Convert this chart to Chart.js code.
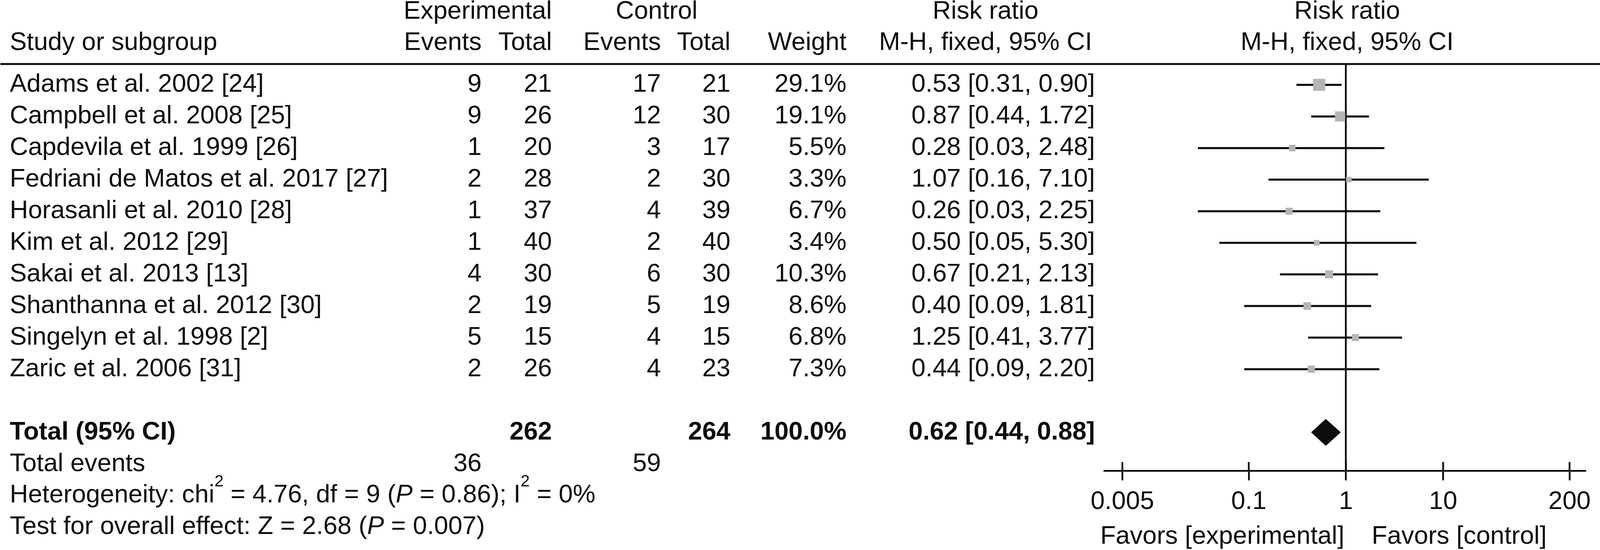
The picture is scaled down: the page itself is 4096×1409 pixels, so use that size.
<!DOCTYPE html>
<html>
<head>
<meta charset="utf-8">
<title>Risk ratio forest plot</title>
<script src="https://cdn.jsdelivr.net/npm/chart.js@4.4.1/dist/chart.umd.min.js"></script>
<style>
  html, body { margin: 0; padding: 0; background: #fff; }
  canvas { display: block; }
</style>
</head>
<body>
<canvas id="forest" width="4096" height="1409"></canvas>
<script>
// ---- data ----
const studies = [
  'Adams et al. 2002 [24]',
  'Campbell et al. 2008 [25]',
  'Capdevila et al. 1999 [26]',
  'Fedriani de Matos et al. 2017 [27]',
  'Horasanli et al. 2010 [28]',
  'Kim et al. 2012 [29]',
  'Sakai et al. 2013 [13]',
  'Shanthanna et al. 2012 [30]',
  'Singelyn et al. 1998 [2]',
  'Zaric et al. 2006 [31]'
];
const expEvents = [9, 9, 1, 2, 1, 1, 4, 2, 5, 2];
const expTotal  = [21, 26, 20, 28, 37, 40, 30, 19, 15, 26];
const ctlEvents = [17, 12, 3, 2, 4, 2, 6, 5, 4, 4];
const ctlTotal  = [21, 30, 17, 30, 39, 40, 30, 19, 15, 23];
const weights   = [29.1, 19.1, 5.5, 3.3, 6.7, 3.4, 10.3, 8.6, 6.8, 7.3];
const rr        = [0.53, 0.87, 0.28, 1.07, 0.26, 0.50, 0.67, 0.40, 1.25, 0.44];
const ciLow     = [0.31, 0.44, 0.03, 0.16, 0.03, 0.05, 0.21, 0.09, 0.41, 0.09];
const ciHigh    = [0.90, 1.72, 2.48, 7.10, 2.25, 5.30, 2.13, 1.81, 3.77, 2.20];

const pooled      = [0.62, 0.44, 0.88];   // RR, lower, upper
const totalN      = [262, 264];
const totalEvents = [36, 59];
const totalWeight = 100.0;

const tickValues = [0.005, 0.1, 1, 10, 200];
const tickLabels = ['0.005', '0.1', '1', '10', '200'];

// ---- look ----
const INK = '#0d0d0d';
const BOX = '#b5b5b5';
const FAMILY = '"Liberation Sans", Arial, Helvetica, sans-serif';
const FS = 65;
const LW = 4.6;
const TOTAL_ROW = 11;
const DIAMOND_HALF = 0.42;   // in row units

// text columns (px)
const col = {
  study: 25, expEv: 1233, expTot: 1413, ctlEv: 1692, ctlTot: 1870,
  weight: 2167, ci: 2803, ciHead: 2523, expHead: 1223, ctlHead: 1681
};

function boxSide(w) {
  return 0.659 * (9 + 7 * Math.sqrt(w));
}

function ciText(a, b, c) {
  return a.toFixed(2) + ' [' + b.toFixed(2) + ', ' + c.toFixed(2) + ']';
}

function txt(ctx, s, x, y, align, bold) {
  ctx.font = (bold ? 'bold ' : '') + FS + 'px ' + FAMILY;
  ctx.textAlign = align;
  ctx.fillText(s, x, y);
}

// text with superscripts and italics
function runs(ctx, parts, x, y) {
  ctx.textAlign = 'left';
  parts.forEach(p => {
    if (typeof p === 'string') p = {t: p};
    const size = p.sup ? 42 : FS;
    ctx.font = (p.it ? 'italic ' : '') + size + 'px ' + FAMILY;
    ctx.fillText(p.t, x, p.sup ? y - 41 : y);
    x += ctx.measureText(p.t).width;
  });
}

const tablePlugin = {
  id: 'table',
  afterDraw(chart) {
    const ctx = chart.ctx;
    const xs = chart.scales.x, ys = chart.scales.y, area = chart.chartArea;
    const one = xs.getPixelForValue(1);
    ctx.save();
    ctx.fillStyle = INK;
    ctx.strokeStyle = INK;
    ctx.textBaseline = 'alphabetic';

    // headings
    txt(ctx, 'Experimental', col.expHead, 48, 'center');
    txt(ctx, 'Control', col.ctlHead, 48, 'center');
    txt(ctx, 'Risk ratio', col.ciHead, 48, 'center');
    txt(ctx, 'Risk ratio', one + 3, 48, 'center');
    txt(ctx, 'Study or subgroup', col.study, 128, 'left');
    txt(ctx, 'Events', col.expEv, 128, 'right');
    txt(ctx, 'Total', col.expTot, 128, 'right');
    txt(ctx, 'Events', col.ctlEv, 128, 'right');
    txt(ctx, 'Total', col.ctlTot, 128, 'right');
    txt(ctx, 'Weight', col.weight, 128, 'right');
    txt(ctx, 'M-H, fixed, 95% CI', col.ciHead, 128, 'center');
    txt(ctx, 'M-H, fixed, 95% CI', one + 3, 128, 'center');

    // rule under the headings
    ctx.lineWidth = 5;
    ctx.beginPath();
    ctx.moveTo(1, area.top);
    ctx.lineTo(ctx.canvas.width, area.top);
    ctx.stroke();

    const base = i => ys.getPixelForValue(i) + 18;

    studies.forEach((s, i) => {
      const b = base(i);
      txt(ctx, s, col.study, b, 'left');
      txt(ctx, String(expEvents[i]), col.expEv, b, 'right');
      txt(ctx, String(expTotal[i]), col.expTot, b, 'right');
      txt(ctx, String(ctlEvents[i]), col.ctlEv, b, 'right');
      txt(ctx, String(ctlTotal[i]), col.ctlTot, b, 'right');
      txt(ctx, weights[i].toFixed(1) + '%', col.weight, b, 'right');
      txt(ctx, ciText(rr[i], ciLow[i], ciHigh[i]), col.ci, b, 'right');
    });

    let b = base(TOTAL_ROW);
    txt(ctx, 'Total (95% CI)', col.study, b, 'left', true);
    txt(ctx, String(totalN[0]), col.expTot, b, 'right', true);
    txt(ctx, String(totalN[1]), col.ctlTot, b, 'right', true);
    txt(ctx, totalWeight.toFixed(1) + '%', col.weight, b, 'right', true);
    txt(ctx, ciText(pooled[0], pooled[1], pooled[2]), col.ci, b, 'right', true);

    b = base(TOTAL_ROW + 1);
    txt(ctx, 'Total events', col.study, b, 'left');
    txt(ctx, String(totalEvents[0]), col.expEv, b, 'right');
    txt(ctx, String(totalEvents[1]), col.ctlEv, b, 'right');

    runs(ctx, ['Heterogeneity: chi', {t: '2', sup: true}, ' = 4.76, df = 9 (',
      {t: 'P', it: true}, ' = 0.86); I', {t: '2', sup: true}, ' = 0%'],
      col.study, base(TOTAL_ROW + 2));
    runs(ctx, ['Test for overall effect: Z = 2.68 (', {t: 'P', it: true}, ' = 0.007)'],
      col.study, base(TOTAL_ROW + 3));

    // upper half of the axis ticks
    ctx.lineWidth = LW;
    xs.ticks.forEach(t => {
      const px = xs.getPixelForValue(t.value);
      ctx.beginPath();
      ctx.moveTo(px, area.bottom - 23);
      ctx.lineTo(px, area.bottom);
      ctx.stroke();
    });

    txt(ctx, 'Favors [experimental]', one - 4, 1393, 'right');
    txt(ctx, 'Favors [control]', one + 66, 1393, 'left');
    ctx.restore();
  }
};

new Chart(document.getElementById('forest'), {
  type: 'scatter',
  data: {
    datasets: [
      {
        type: 'scatter',
        label: 'Risk ratio',
        data: rr.map((v, i) => ({x: v, y: i})),
        pointStyle: 'rect',
        pointRadius: c => boxSide(weights[c.dataIndex]) / Math.SQRT2,
        pointHoverRadius: c => boxSide(weights[c.dataIndex]) / Math.SQRT2,
        backgroundColor: BOX,
        borderWidth: 0,
        order: 0
      },
      {
        type: 'bar',
        label: '95% CI',
        indexAxis: 'y',
        data: ciLow.map((v, i) => ({x: [v, ciHigh[i]], y: i})),
        backgroundColor: INK,
        borderWidth: 0,
        barThickness: LW,
        order: 1
      },
      {
        type: 'line',
        label: 'Total',
        data: [
          {x: pooled[1], y: TOTAL_ROW},
          {x: pooled[0], y: TOTAL_ROW - DIAMOND_HALF},
          {x: pooled[2], y: TOTAL_ROW},
          {x: pooled[0], y: TOTAL_ROW + DIAMOND_HALF},
          {x: pooled[1], y: TOTAL_ROW}
        ],
        showLine: true,
        fill: 'shape',
        tension: 0,
        backgroundColor: INK,
        borderColor: INK,
        borderWidth: 1,
        pointRadius: 0,
        order: 0
      }
    ]
  },
  options: {
    responsive: false,
    animation: false,
    devicePixelRatio: 1,
    events: [],
    layout: { padding: { left: 2827, right: 22.4, top: 164, bottom: 0 } },
    plugins: { legend: { display: false }, tooltip: { enabled: false } },
    scales: {
      x: {
        type: 'logarithmic',
        position: 'bottom',
        min: 0.00326,
        max: 291,
        offset: false,
        beginAtZero: false,
        afterBuildTicks: s => { s.ticks = tickValues.map(v => ({value: v})); },
        afterFit: s => { s.height = 202.4; },
        border: { display: true, color: INK, width: LW },
        grid: {
          offset: false,
          drawOnChartArea: true,
          color: c => (c.tick && c.tick.value === 1) ? INK : 'rgba(0,0,0,0)',
          lineWidth: LW,
          tickColor: INK,
          tickWidth: LW,
          tickLength: 24
        },
        ticks: {
          autoSkip: false,
          maxRotation: 0,
          padding: 23,
          color: INK,
          font: { family: FAMILY, size: FS, lineHeight: 1 },
          callback: (v, i) => tickLabels[i]
        }
      },
      y: {
        type: 'linear',
        display: false,
        reverse: true,
        offset: false,
        grid: { offset: false },
        min: -0.660,
        max: 12.223
      }
    }
  },
  plugins: [tablePlugin]
});
</script>
</body>
</html>
